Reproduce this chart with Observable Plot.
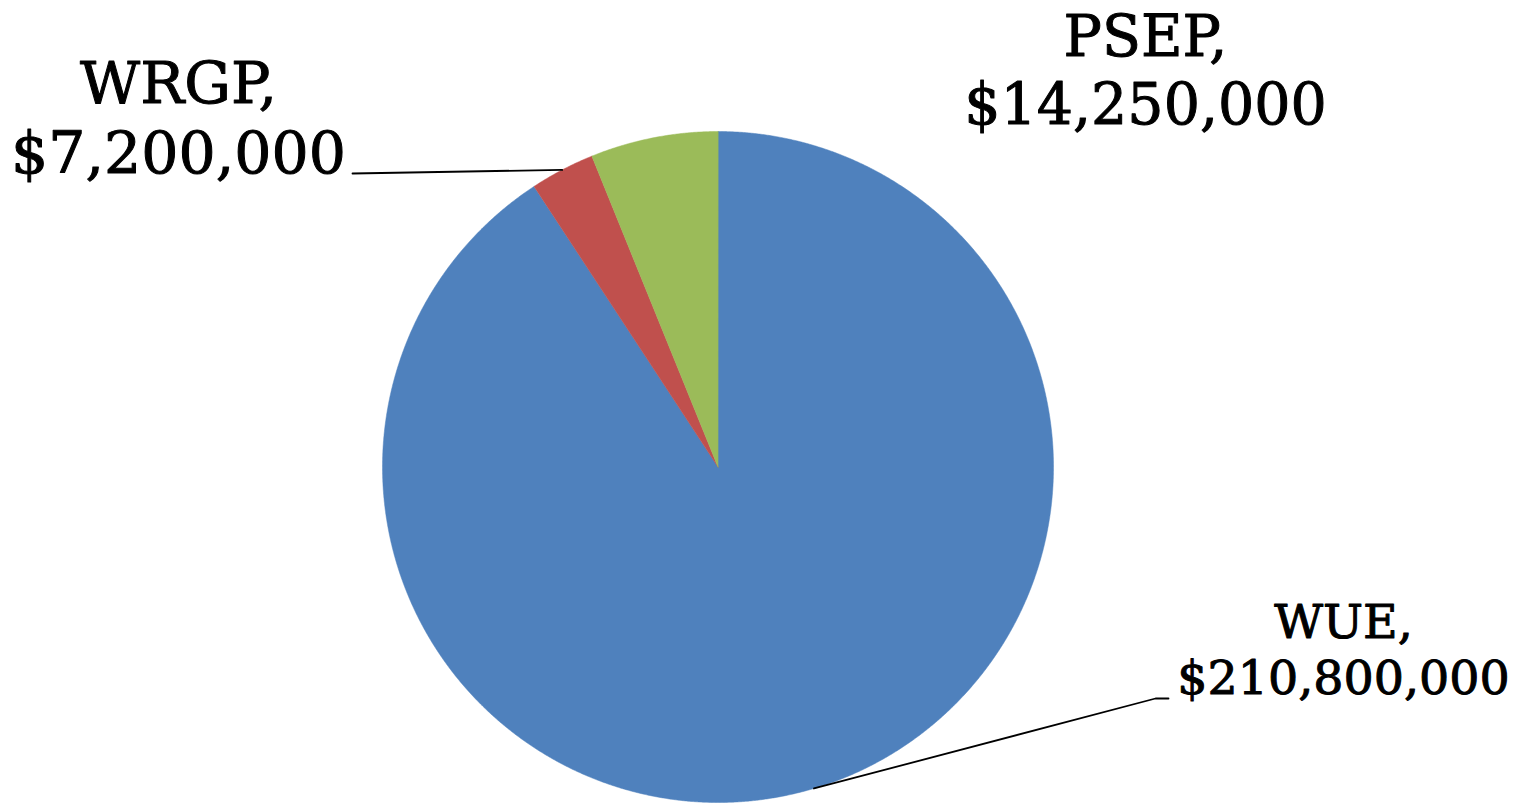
<!DOCTYPE html>
<html><head><meta charset="utf-8">
<script src="https://cdn.jsdelivr.net/npm/d3@7"></script>
<script src="https://cdn.jsdelivr.net/npm/@observablehq/plot@0.6"></script>
<style>html,body{margin:0;padding:0;background:#fff;overflow:hidden}</style>
</head><body><div id="chart"></div>
<script>
// ---- data ----
const categories = ["WUE", "WRGP", "PSEP"];
const amounts = [210800000, 7200000, 14250000];
const sliceColors = ["#4F81BD", "#C0504D", "#9BBB59"];

// ---- layout (pixels) ----
const W = 1529, H = 804;
const cx = 717.5, cy = 466.5, R = 335.5;
const labelX = [1343, 178, 1145];
const labelBaseline = [693, 172, 123];
const labelSize = [47.5, 58.5, 57];
const labelLineGap = [56, 70, 68];
const leaderBends = [[[1155, 698], [1168, 698]], [[352, 173]], []];

const px2x = p => (p - cx) / R;
const px2y = p => (cy - p) / R;

const arcs = d3.pie().sort(null).startAngle(0).endAngle(2 * Math.PI)(amounts);

// slice polygons
const slicePts = [];
arcs.forEach((a, i) => {
  slicePts.push({cat: categories[i], x: 0, y: 0});
  const n = Math.max(2, Math.ceil((a.endAngle - a.startAngle) / 0.004));
  for (let k = 0; k <= n; k++) {
    const t = a.startAngle + (a.endAngle - a.startAngle) * k / n;
    slicePts.push({cat: categories[i], x: Math.sin(t), y: Math.cos(t)});
  }
});

// leader lines
const leaderPts = [];
arcs.forEach((a, i) => {
  if (!leaderBends[i].length) return;
  const m = (a.startAngle + a.endAngle) / 2;
  leaderPts.push({cat: categories[i], x: Math.sin(m), y: Math.cos(m)});
  leaderBends[i].forEach(([px, py]) => leaderPts.push({cat: categories[i], x: px2x(px), y: px2y(py)}));
});

const fmt = d3.format(",");
const labelMarks = categories.map((c, i) => Plot.text(
  [{x: px2x(labelX[i]), y: px2y(labelBaseline[i]), t: `${c},\n$${fmt(amounts[i])}`}],
  {x: "x", y: "y", text: "t", textAnchor: "middle", lineAnchor: "bottom",
   fontFamily: "DejaVu Serif", fontSize: labelSize[i], lineHeight: labelLineGap[i] / labelSize[i],
   fill: "#000", stroke: "#000", strokeWidth: 1}
));

const chart = Plot.plot({
  width: W, height: H,
  margin: 0,
  x: {domain: [px2x(0), px2x(W)], range: [0, W], axis: null},
  y: {domain: [px2y(H), px2y(0)], range: [H, 0], axis: null},
  color: {domain: categories, range: sliceColors},
  style: {background: "#fff"},
  marks: [
    Plot.line(slicePts, {x: "x", y: "y", z: "cat", fill: "cat", stroke: "cat", strokeWidth: 0.5, curve: "linear-closed"}),
    Plot.line(leaderPts, {x: "x", y: "y", z: "cat", stroke: "#000", strokeWidth: 1.8}),
    ...labelMarks
  ]
});
document.getElementById("chart").appendChild(chart);
</script>
</body></html>
